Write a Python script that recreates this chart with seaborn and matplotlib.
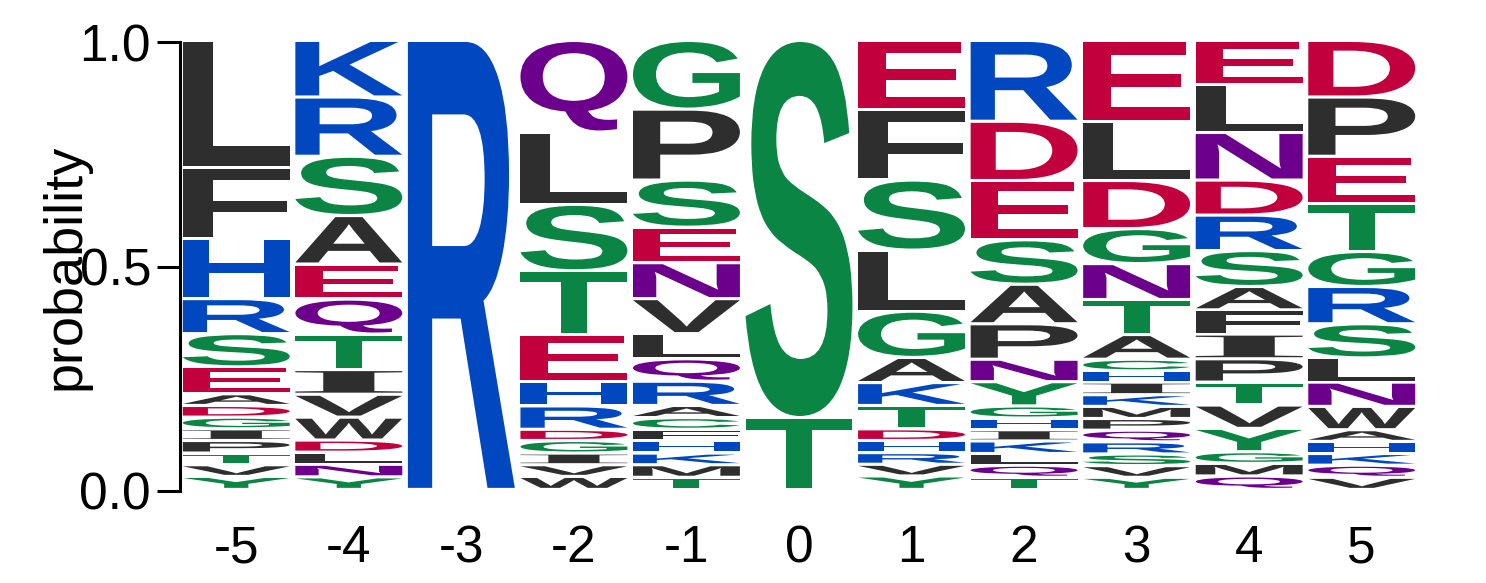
import numpy as np
import pandas as pd
import matplotlib
matplotlib.use("Agg")
import matplotlib.pyplot as plt
import seaborn as sns
from matplotlib.textpath import TextPath
from matplotlib.patches import PathPatch
from matplotlib.font_manager import FontProperties
from matplotlib.transforms import Affine2D

# ---- data: letters listed top-to-bottom with their probabilities ----
positions = [-5, -4, -3, -2, -1, 0, 1, 2, 3, 4, 5]
tick_labels = ["-5", "-4", "-3", "-2", "-1", "0", "1", "2", "3", "4", "5"]

letters_m5 = list("LFHRSEADGIPTVY")
probs_m5 = [0.283, 0.158, 0.134, 0.078, 0.074, 0.060, 0.026, 0.026, 0.026, 0.026, 0.028, 0.026, 0.026, 0.029]

letters_m4 = list("KRSAEQTIVWDLNY")
probs_m4 = [0.126, 0.132, 0.132, 0.108, 0.078, 0.078, 0.079, 0.055, 0.051, 0.051, 0.027, 0.027, 0.028, 0.028]

letters_m3 = list("R")
probs_m3 = [1.0]

letters_m2 = list("QLSTEHRDGIVW")
probs_m2 = [0.204, 0.161, 0.148, 0.141, 0.106, 0.054, 0.052, 0.025, 0.028, 0.026, 0.026, 0.029]

letters_m1 = list("GPSENVLQRACFHKMT")
probs_m1 = [0.153, 0.158, 0.105, 0.079, 0.080, 0.078, 0.056, 0.050, 0.054, 0.027, 0.026, 0.025, 0.028, 0.026, 0.028, 0.027]

letters_p0 = list("ST")
probs_p0 = [0.840, 0.160]

letters_p1 = list("EFSLGAKTDHRVY")
probs_p1 = [0.153, 0.158, 0.156, 0.136, 0.103, 0.056, 0.051, 0.052, 0.026, 0.027, 0.026, 0.026, 0.030]

letters_p2 = list("RDESAPNYGHIKLQT")
probs_p2 = [0.180, 0.132, 0.132, 0.099, 0.088, 0.079, 0.050, 0.054, 0.027, 0.026, 0.025, 0.028, 0.026, 0.027, 0.027]

letters_p3 = list("ELDGNTACHIKMPQRSVY")
probs_p3 = [0.180, 0.132, 0.107, 0.078, 0.080, 0.078, 0.055, 0.026, 0.025, 0.028, 0.026, 0.027, 0.026, 0.026, 0.027, 0.026, 0.026, 0.027]

letters_p4 = list("ELNDRSAFIPTVYGMQ")
probs_p4 = [0.099, 0.106, 0.106, 0.078, 0.079, 0.080, 0.052, 0.054, 0.055, 0.052, 0.051, 0.052, 0.052, 0.026, 0.028, 0.030]

letters_p5 = list("DPETGRSLNWAHKQV")
probs_p5 = [0.126, 0.132, 0.106, 0.106, 0.078, 0.083, 0.076, 0.054, 0.054, 0.052, 0.026, 0.027, 0.026, 0.027, 0.027]

columns = [
    (letters_m5, probs_m5), (letters_m4, probs_m4), (letters_m3, probs_m3),
    (letters_m2, probs_m2), (letters_m1, probs_m1), (letters_p0, probs_p0),
    (letters_p1, probs_p1), (letters_p2, probs_p2), (letters_p3, probs_p3),
    (letters_p4, probs_p4), (letters_p5, probs_p5),
]

# long-form table built from the arrays above
rows = []
for pos, (lets, probs) in zip(positions, columns):
    for ch, p in zip(lets, probs):
        rows.append({"pos": pos, "letter": ch, "prob": p})
df = pd.DataFrame(rows)

GREEN, PURPLE, BLUE, RED, BLACK = "#0A8544", "#6C008C", "#0047C0", "#C2003E", "#2E2E2E"
color_of = {}
for c in "GSTYC":
    color_of[c] = GREEN
for c in "NQ":
    color_of[c] = PURPLE
for c in "KRH":
    color_of[c] = BLUE
for c in "DE":
    color_of[c] = RED
for c in "AVLIPWFM":
    color_of[c] = BLACK

sns.set_theme(style="ticks")
plt.rcParams["font.family"] = ["Liberation Sans", "DejaVu Sans"]

W, H = 1486, 583
fig = plt.figure(figsize=(W / 100, H / 100), dpi=100)
fig.patch.set_facecolor("white")
ax = fig.add_axes([180 / W, 1 - 491 / H, 1238 / W, 449 / H])
ax.set_facecolor("white")

glyph_font = FontProperties(family="Liberation Sans", weight="bold")
serif_font = FontProperties(family="Liberation Serif", weight="bold")
col_width = 0.95
gap = 0.007


def draw_glyph(ch, x, y0, h, color):
    prop = serif_font if ch == "I" else glyph_font
    tp = TextPath((0, 0), ch, size=1, prop=prop)
    ext = tp.get_extents()
    tr = (Affine2D().translate(-ext.x0, -ext.y0)
          .scale(col_width / ext.width, h / ext.height)
          .translate(x - col_width / 2, y0))
    ax.add_patch(PathPatch(tr.transform_path(tp), facecolor=color,
                           edgecolor="none", lw=0, clip_on=False))


for pos in positions:
    sub = df[df["pos"] == pos].iloc[::-1]  # bottom to top
    y = 0.0
    for _, r in sub.iterrows():
        draw_glyph(r["letter"], pos, y + gap, r["prob"] - gap, color_of[r["letter"]])
        y += r["prob"]

ax.set_xlim(-5.5, 5.5)
ax.set_ylim(0, 1)
ax.set_xticks(positions)
ax.set_xticklabels(tick_labels)
ax.set_yticks([0.0, 0.5, 1.0])
ax.set_yticklabels(["0.0", "0.5", "1.0"])
sns.despine(ax=ax, bottom=True)
ax.spines["left"].set_linewidth(2.2)
ax.spines["left"].set_color("black")
ax.tick_params(axis="x", length=0, pad=24, labelsize=37, colors="black")
ax.tick_params(axis="y", length=16.5, width=2.2, pad=4.3, labelsize=37, colors="black")
ax.set_ylabel("probability", fontsize=39, color="black")
ax.yaxis.set_label_coords(-0.072, 0.5)
ax.grid(False)

fig.savefig("out.png", dpi=100, facecolor="white")
